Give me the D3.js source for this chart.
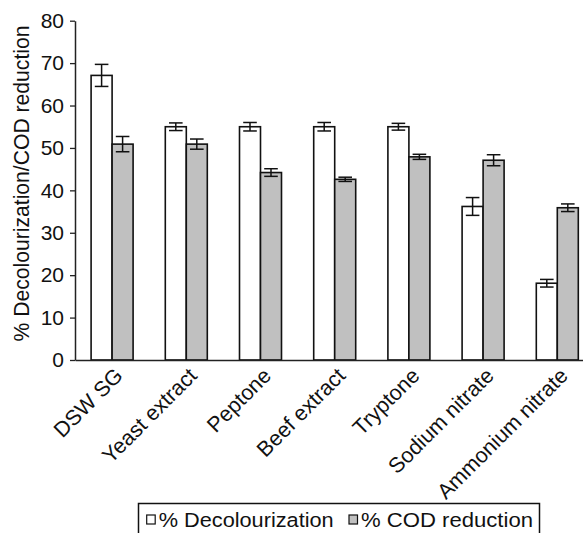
<!DOCTYPE html>
<html>
<head>
<meta charset="utf-8">
<script src="https://cdn.jsdelivr.net/npm/d3@7"></script>
<style>
  body { margin: 0; background: #fff; }
  svg { display: block; font-family: "Liberation Sans", Arial, sans-serif; }
</style>
</head>
<body>
<svg id="chart"></svg>
<script>
var categories = ["DSW SG", "Yeast extract", "Peptone", "Beef extract", "Tryptone", "Sodium nitrate", "Ammonium nitrate"];
var decolourization = [67.1, 55.0, 55.0, 55.0, 55.0, 36.2, 18.1];
var decolourizationErr = [2.6, 0.9, 1.0, 1.0, 0.8, 2.1, 0.9];
var codReduction = [50.9, 50.9, 44.2, 42.6, 47.9, 47.1, 35.9];
var codReductionErr = [1.8, 1.2, 0.9, 0.5, 0.6, 1.3, 0.9];
var yTicks = [0, 10, 20, 30, 40, 50, 60, 70, 80];
var seriesNames = ["% Decolourization", "% COD reduction"];
var seriesColors = ["#ffffff", "#c0c0c0"];

var dimensions = {
  width: 583,
  height: 533,
  margin: { top: 20.7, right: 0, bottom: 173, left: 75 },
};

var svg = d3
  .select("#chart")
  .attr("width", dimensions.width)
  .attr("height", dimensions.height);

var step = 74.2;
var xScale = d3
  .scaleBand()
  .domain(categories)
  .range([dimensions.margin.left, dimensions.margin.left + step * categories.length])
  .paddingInner(0.434)
  .paddingOuter(0.217);

var xSub = d3
  .scaleBand()
  .domain([0, 1])
  .range([0, xScale.bandwidth()]);

var yScale = d3
  .scaleLinear()
  .domain([0, 80])
  .range([360, dimensions.margin.top]);

// rows built from the arrays
var rows = categories.map(function (c, i) {
  return {
    cat: c,
    vals: [
      { s: 0, v: decolourization[i], e: decolourizationErr[i] },
      { s: 1, v: codReduction[i], e: codReductionErr[i] },
    ],
  };
});

var groups = svg
  .selectAll("g.grp")
  .data(rows)
  .enter()
  .append("g")
  .attr("class", "grp")
  .attr("transform", function (d) {
    return "translate(" + xScale(d.cat) + ",0)";
  });

groups
  .selectAll("rect")
  .data(function (d) { return d.vals; })
  .enter()
  .append("rect")
  .attr("x", function (d) { return xSub(d.s); })
  .attr("width", xSub.bandwidth())
  .attr("y", function (d) { return yScale(d.v); })
  .attr("height", function (d) { return yScale(0) - yScale(d.v); })
  .attr("fill", function (d) { return seriesColors[d.s]; })
  .attr("stroke", "#111")
  .attr("stroke-width", 1.6);

// error bars
var cap = 6.8;
var err = groups
  .selectAll("g.err")
  .data(function (d) { return d.vals; })
  .enter()
  .append("g")
  .attr("class", "err")
  .attr("stroke", "#111")
  .attr("stroke-width", 1.5);

err.append("line")
  .attr("x1", function (d) { return xSub(d.s) + xSub.bandwidth() / 2; })
  .attr("x2", function (d) { return xSub(d.s) + xSub.bandwidth() / 2; })
  .attr("y1", function (d) { return yScale(d.v + d.e); })
  .attr("y2", function (d) { return yScale(d.v - d.e); });
err.append("line")
  .attr("x1", function (d) { return xSub(d.s) + xSub.bandwidth() / 2 - cap; })
  .attr("x2", function (d) { return xSub(d.s) + xSub.bandwidth() / 2 + cap; })
  .attr("y1", function (d) { return yScale(d.v + d.e); })
  .attr("y2", function (d) { return yScale(d.v + d.e); });
err.append("line")
  .attr("x1", function (d) { return xSub(d.s) + xSub.bandwidth() / 2 - cap; })
  .attr("x2", function (d) { return xSub(d.s) + xSub.bandwidth() / 2 + cap; })
  .attr("y1", function (d) { return yScale(d.v - d.e); })
  .attr("y2", function (d) { return yScale(d.v - d.e); });

// y axis
var yAxis = d3.axisLeft(yScale).tickValues(yTicks).tickSize(5).tickSizeOuter(0).tickPadding(6);
var gy = svg
  .append("g")
  .attr("transform", "translate(" + dimensions.margin.left + ",0)")
  .call(yAxis);
gy.select(".domain").attr("stroke", "#222").attr("stroke-width", 1.5);
gy.selectAll(".tick line").attr("stroke", "#222").attr("stroke-width", 1.3);
gy.selectAll("text")
  .attr("fill", "#111")
  .style("font-size", "21px")
  .style("font-family", "'Liberation Sans', Arial, sans-serif");

// x axis
var xAxis = d3.axisBottom(xScale).tickSize(0).tickSizeOuter(0);
var gx = svg
  .append("g")
  .attr("transform", "translate(0," + yScale(0) + ")")
  .call(xAxis);
gx.select(".domain").attr("stroke", "#222").attr("stroke-width", 1.5);
gx.selectAll("text")
  .attr("fill", "#111")
  .attr("x", 0)
  .attr("y", 0)
  .attr("dy", 0)
  .attr("text-anchor", "end")
  .attr("transform", "translate(12,17) rotate(-45)")
  .style("font-size", "21.5px")
  .style("font-family", "'Liberation Sans', Arial, sans-serif");

// y title
svg
  .append("text")
  .attr("transform", "translate(28.5,183.5) rotate(-90)")
  .attr("text-anchor", "middle")
  .attr("textLength", 316)
  .attr("lengthAdjust", "spacingAndGlyphs")
  .attr("fill", "#111")
  .style("font-size", "22px")
  .text("% Decolourization/COD reduction");

// legend
var legend = svg.append("g");
legend
  .append("rect")
  .attr("x", 138.5)
  .attr("y", 503.5)
  .attr("width", 401)
  .attr("height", 40)
  .attr("fill", "#fff")
  .attr("stroke", "#111")
  .attr("stroke-width", 1.5);

var legendX = [146.7, 349];
var legendW = [175, 172];
seriesNames.forEach(function (name, i) {
  legend
    .append("rect")
    .attr("x", legendX[i])
    .attr("y", 515)
    .attr("width", 8.5)
    .attr("height", 9)
    .attr("fill", seriesColors[i])
    .attr("stroke", "#111")
    .attr("stroke-width", 1.2);
  legend
    .append("text")
    .attr("x", legendX[i] + 12)
    .attr("y", 527)
    .attr("textLength", legendW[i])
    .attr("lengthAdjust", "spacingAndGlyphs")
    .attr("fill", "#111")
    .style("font-size", "20.5px")
    .text(name);
});
</script>
</body>
</html>
